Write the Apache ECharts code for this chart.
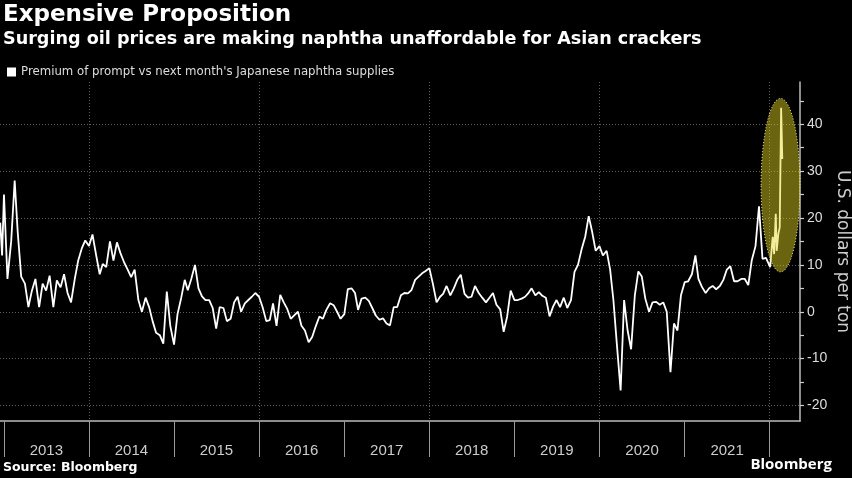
<!DOCTYPE html>
<html>
<head>
<meta charset="utf-8">
<script src="https://cdn.jsdelivr.net/npm/echarts@6/dist/echarts.min.js"></script>
<style>
html, body { margin: 0; padding: 0; background: #000; }
#chart { width: 852px; height: 478px; }
</style>
</head>
<body>
<div id="chart"></div>
<script>
// premium of prompt vs next month, USD per ton
// yearly arrays are sampled on the 1st and 16th of every month
var leadDates = ['2012-12-16', '2012-12-24'];
var leadValues = [19, 12];

var v2013 = [25, 7, 15, 28, 17, 7.5, 6, 1, 4.5, 7, 1, 6, 4.5, 7.7, 1, 6.7, 5.2, 8, 4, 2, 7, 11, 13.5, 15.2];
var v2014 = [14, 16.5, 12, 8, 10.2, 9.5, 15, 10.9, 14.8, 12.5, 10.5, 9, 7.4, 9, 2.5, 0, 3, 1, -2, -4.5, -5, -6.8, 4.3, -3];
var v2015 = [-7, -0.5, 3, 6.8, 4.6, 7, 10, 5, 3.3, 2.5, 2.5, 0.8, -3.6, 1, 0.8, -2, -1.5, 2, 3.2, 0, 1.8, 2.5, 3.2, 4];
var v2016 = [3.2, 1, -2, -1.8, 1.8, -3, 3.6, 2, 0.6, -1.5, -0.7, 0, -3, -4, -6.5, -5.4, -3, -1, -1.5, 0.4, 1.8, 1.4, 0, -1.5];
var v2017 = [-0.5, 4.8, 5, 4, 0.4, 2.8, 3, 2.3, 0.8, -0.8, -1.7, -1.4, -2.5, -2.9, 1, 1, 3.5, 4, 3.9, 4.6, 6.8, 7.5, 8.2, 8.7];
var v2018 = [9.3, 6, 2, 3.2, 3.8, 5.5, 3.5, 5, 6.8, 7.9, 3.8, 3, 3.2, 5.5, 4, 3, 2, 3, 4, 1.5, 0.5, -4.3, -1, 4.5];
var v2019 = [2.5, 2.5, 2.8, 3.2, 3.9, 5, 3.5, 4.2, 3.4, 3, -1, 1.1, 2.5, 1, 3, 0.8, 2.5, 8.5, 10, 13.2, 16, 20.4, 17, 13];
var v2020 = [14, 12, 13, 9, 2.5, -7, -16.8, 2.5, -4, -8, 3.5, 8.6, 7.5, 2.8, 0, 2, 2.1, 1.5, 2, 0, -12.9, -2.5, -4, 3.5];
var v2021 = [6.3, 6.5, 8, 12, 7, 5.3, 4, 5, 5.5, 4.8, 5.5, 6.8, 9, 9.7, 6.5, 6.5, 7, 7, 5.7, 11, 14, 22.5, 11.3, 11.5];

var tailDates = ['2022-01-03', '2022-01-10', '2022-01-14', '2022-01-20', '2022-01-27', '2022-01-31', '2022-02-07', '2022-02-13', '2022-02-19', '2022-02-24'];
var tailValues = [9.5, 13.8, 16, 12.3, 20.9, 13, 16.6, 18, 43.5, 32.6];

var years = [2013, 2014, 2015, 2016, 2017, 2018, 2019, 2020, 2021];
var yearValues = [v2013, v2014, v2015, v2016, v2017, v2018, v2019, v2020, v2021];

var yLabels = [-20, -10, 0, 10, 20, 30, 40];
var yTickMarks = [-20, -15, -10, -5, 0, 5, 10, 15, 20, 25, 30, 35, 40, 45];
var yearBreaks = [2013, 2014, 2015, 2016, 2017, 2018, 2019, 2020, 2021, 2022];
var gridYears = [2014, 2016, 2018, 2020, 2022];

// the circled spike
var highlight = { from: '2021-11-25', to: '2022-05-11', low: 8.5, high: 45.5 };

function pad(n) { return n < 10 ? '0' + n : '' + n; }
function ts(s) { var p = s.split('-'); return +new Date(+p[0], +p[1] - 1, +p[2]); }

var points = [];
leadDates.forEach(function (d, i) { points.push([ts(d), leadValues[i]]); });
years.forEach(function (y, k) {
    yearValues[k].forEach(function (v, i) {
        var d = y + '-' + pad(Math.floor(i / 2) + 1) + (i % 2 ? '-16' : '-01');
        points.push([ts(d), v]);
    });
});
tailDates.forEach(function (d, i) { points.push([ts(d), tailValues[i]]); });

var xMin = ts('2012-12-15'), xMax = ts('2022-05-11');
var plain = '"Liberation Sans", Arial, sans-serif';
var heavy = '"DejaVu Sans", Verdana, sans-serif';
var gridStyle = { color: '#5e5e5e', type: [1, 2], width: 1 };

var myChart = echarts.init(document.getElementById('chart'));
myChart.setOption({
    backgroundColor: '#000',
    animation: false,
    title: {
        left: 3,
        top: 0,
        padding: [3, 0, 0, 0],
        itemGap: 0,
        text: 'Expensive Proposition',
        subtext: 'Surging oil prices are making naphtha unaffordable for Asian crackers',
        textStyle: { color: '#fff', fontFamily: heavy, fontWeight: 'bold', fontSize: 23, lineHeight: 25 },
        subtextStyle: { color: '#fff', fontFamily: heavy, fontWeight: 'bold', fontSize: 17.6, lineHeight: 22 }
    },
    legend: {
        left: 2,
        top: 61,
        icon: 'rect',
        itemWidth: 9,
        itemHeight: 9,
        itemGap: 6,
        textStyle: { color: '#ddd', fontFamily: heavy, fontSize: 11.75 },
        data: ["Premium of prompt vs next month's Japanese naphtha supplies"]
    },
    grid: { left: 0, right: 52, top: 82, bottom: 57, containLabel: false, outerBoundsMode: 'none' },
    xAxis: [
        {
            type: 'value',
            min: xMin,
            max: xMax,
            axisLine: { onZero: false, lineStyle: { color: '#bbb', width: 1.5 } },
            axisTick: {
                length: 36,
                lineStyle: { color: '#999' },
                customValues: yearBreaks.map(function (y) { return +new Date(y, 0, 1); })
            },
            axisLabel: {
                margin: 22,
                color: '#ccc',
                fontFamily: plain,
                fontSize: 15,
                customValues: years.map(function (y) { return +new Date(y, 6, 2); }),
                formatter: function (v) { return String(new Date(v).getFullYear()); }
            },
            splitLine: { show: false }
        },
        {
            type: 'value',
            min: xMin,
            max: xMax,
            axisLine: { show: false, onZero: false },
            axisLabel: { show: false },
            axisTick: {
                show: false,
                customValues: gridYears.map(function (y) { return +new Date(y, 0, 1); })
            },
            splitLine: { show: true, lineStyle: gridStyle }
        }
    ],
    yAxis: [
        {
            type: 'value',
            position: 'right',
            min: -23.3,
            max: 49,
            name: 'U.S. dollars per ton',
            nameLocation: 'middle',
            nameRotate: -90,
            nameGap: 34,
            nameMoveOverlap: false,
            nameTextStyle: { color: '#ccc', fontFamily: heavy, fontSize: 17 },
            axisLine: { show: true, onZero: false, lineStyle: { color: '#bbb', width: 1.5 } },
            axisTick: { show: false, customValues: yLabels },
            axisLabel: { margin: 7, color: '#ddd', fontFamily: plain, fontSize: 14, customValues: yLabels },
            splitLine: { show: true, lineStyle: gridStyle }
        },
        {
            type: 'value',
            position: 'right',
            min: -23.3,
            max: 49,
            axisLine: { show: false, onZero: false },
            axisLabel: { show: false },
            axisTick: { show: true, length: 4, lineStyle: { color: '#ccc', width: 1.2 }, customValues: yTickMarks },
            splitLine: { show: false }
        }
    ],
    series: [
        {
            name: "Premium of prompt vs next month's Japanese naphtha supplies",
            type: 'line',
            showSymbol: false,
            color: '#fff',
            lineStyle: { color: '#fff', width: 1.8 },
            data: points
        }
    ]
});

// ellipse round the latest spike, placed from data coordinates
var p0 = myChart.convertToPixel({ xAxisIndex: 0, yAxisIndex: 0 }, [ts(highlight.from), highlight.high]);
var p1 = myChart.convertToPixel({ xAxisIndex: 0, yAxisIndex: 0 }, [ts(highlight.to), highlight.low]);

myChart.setOption({
    graphic: [
        {
            type: 'ellipse',
            z: 100,
            shape: {
                cx: (p0[0] + p1[0]) / 2,
                cy: (p0[1] + p1[1]) / 2,
                rx: Math.abs(p1[0] - p0[0]) / 2,
                ry: Math.abs(p1[1] - p0[1]) / 2
            },
            style: { fill: 'rgba(232,217,35,0.46)', stroke: '#f0e88a', lineWidth: 1, lineDash: [1, 2] }
        },
        {
            type: 'text',
            left: 3,
            top: 461,
            style: { text: 'Source: Bloomberg', fill: '#fff', font: 'bold 12.5px "DejaVu Sans", sans-serif' }
        },
        {
            type: 'text',
            right: 20,
            top: 457,
            style: { text: 'Bloomberg', fill: '#fff', font: 'bold 15px "Open Sans", sans-serif' }
        }
    ]
});
</script>
</body>
</html>
